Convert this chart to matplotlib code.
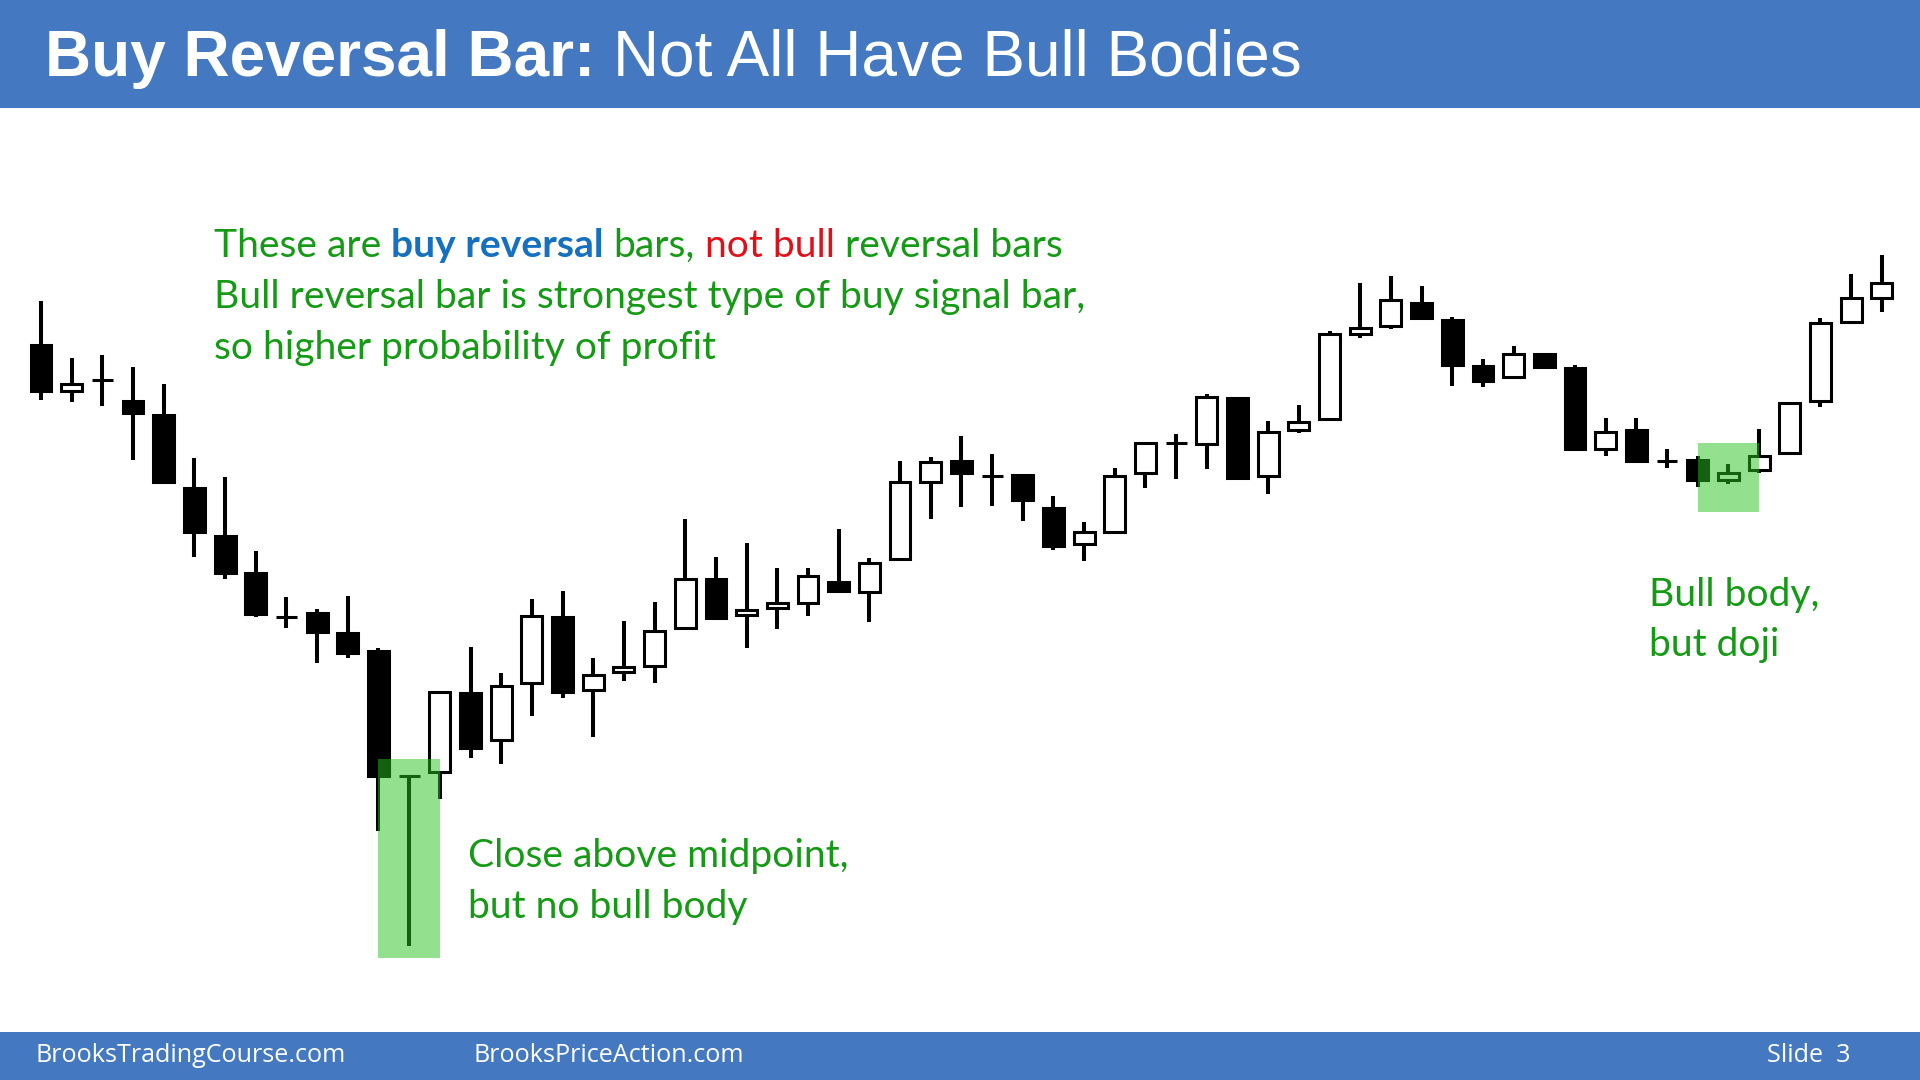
import matplotlib
matplotlib.use('Agg')
import matplotlib.pyplot as plt
from matplotlib.patches import Rectangle

# OHLC, one entry per bar, left to right
opens = [73.5, 68.9, 70.0, 67.9, 66.5, 59.2, 54.4, 50.7, 46.3, 46.7,
         44.7, 42.9, 30.4, 30.8, 38.7, 34.0, 39.7, 46.3, 39.0, 40.8,
         41.4, 45.2, 50.1, 46.5, 47.2, 47.7, 49.8, 48.8, 52.1, 59.8,
         61.9, 60.4, 60.5, 57.2, 53.6, 54.8, 60.7, 63.7, 63.6, 68.2,
         60.4, 65.0, 66.1, 74.6, 75.4, 77.7, 76.0, 71.4, 70.3, 72.6,
         71.2, 63.1, 65.0, 61.9, 62.0, 60.0, 61.0, 62.7, 67.9, 75.8,
         78.2]
highs = [77.9, 72.2, 72.5, 71.3, 69.6, 62.2, 60.3, 52.9, 48.3, 47.1,
         48.4, 43.2, 30.5, 38.8, 43.3, 40.7, 48.1, 48.9, 42.2, 45.9,
         47.8, 56.1, 52.3, 53.7, 51.2, 51.2, 55.1, 52.2, 61.9, 62.3,
         64.4, 62.6, 60.5, 58.4, 55.8, 61.2, 63.8, 64.6, 68.6, 68.2,
         65.9, 67.5, 74.9, 79.7, 80.4, 79.4, 76.3, 72.1, 73.4, 72.6,
         71.5, 66.2, 66.2, 63.1, 62.4, 61.6, 65.1, 67.7, 76.2, 80.6,
         82.5]
lows = [68.0, 67.8, 67.4, 62.0, 59.8, 52.3, 50.1, 46.3, 45.2, 41.7,
        42.2, 24.9, 13.4, 28.1, 32.2, 31.6, 36.4, 38.2, 34.3, 39.9,
        39.7, 45.2, 46.1, 43.2, 45.1, 46.4, 48.8, 45.8, 51.9, 56.1,
        57.3, 57.4, 55.9, 53.0, 51.9, 54.8, 59.2, 60.1, 61.1, 60.2,
        58.6, 64.7, 66.1, 74.2, 75.1, 76.1, 69.4, 69.3, 70.3, 71.2,
        63.1, 62.4, 61.7, 61.2, 59.3, 59.6, 60.7, 62.7, 67.3, 75.7,
        76.8]
closes = [68.9, 69.6, 70.0, 66.7, 59.8, 54.8, 50.7, 46.6, 46.3, 44.8,
          42.7, 30.4, 30.4, 38.8, 33.2, 39.4, 46.4, 38.8, 40.5, 41.3,
          44.9, 50.1, 46.2, 47.0, 47.7, 50.4, 48.9, 51.7, 59.8, 61.8,
          60.7, 60.4, 58.0, 53.4, 54.8, 60.4, 63.7, 63.7, 68.3, 60.2,
          64.8, 65.8, 74.6, 75.2, 78.0, 76.2, 71.5, 69.9, 72.6, 71.3,
          63.1, 64.8, 61.9, 61.9, 60.0, 60.7, 62.4, 67.7, 75.7, 78.2,
          79.7]

# bars singled out with a green box, and the box bottom/top
marked = [12, 55]
box_lo = [12.2, 56.8]
box_hi = [32.1, 63.7]

W, H = 1920, 1080
GREEN = '#149a14'
BLUE = '#1570c0'
RED = '#e0101a'
BAND = '#4479c1'
BODY_FONT = 'Lato'

fig = plt.figure(figsize=(W / 100, H / 100), dpi=100)
renderer = fig.canvas.get_renderer()

# header and footer bands
fig.patches.append(Rectangle((0, 1 - 108 / H), 1, 108 / H, transform=fig.transFigure,
                             facecolor=BAND, edgecolor='none', zorder=0))
fig.patches.append(Rectangle((0, 0), 1, 48 / H, transform=fig.transFigure,
                             facecolor=BAND, edgecolor='none', zorder=0))

# chart area: one bar every 30.68 px, first bar at x=41 px
step = 30.68
ax = fig.add_axes([0, 0, 1, 1])
ax.set_xlim(-41 / step, (W - 41) / step)
ax.set_ylim(0, H / 10)
ax.axis('off')

body_w = 0.68
for i in range(len(opens)):
    o, h, l, c = opens[i], highs[i], lows[i], closes[i]
    ax.vlines(i, l, h, color='black', lw=2.9, zorder=2)
    fill = 'white' if c >= o else 'black'
    ax.add_patch(Rectangle((i - body_w / 2, min(o, c)), body_w, abs(c - o),
                           facecolor=fill, edgecolor='black', lw=2.2, zorder=3))

for k, i in enumerate(marked):
    ax.add_patch(Rectangle((i - 1, box_lo[k]), 2, box_hi[k] - box_lo[k],
                           facecolor=(40 / 255, 195 / 255, 30 / 255), alpha=0.5,
                           edgecolor='none', zorder=5))


def width_of(t):
    return t.get_window_extent(renderer).width


def space_width(size, weight, family):
    a = fig.text(0, 0, 'x x', fontsize=size, fontweight=weight, family=family)
    b = fig.text(0, 0, 'xx', fontsize=size, fontweight=weight, family=family)
    d = width_of(a) - width_of(b)
    a.remove()
    b.remove()
    return d


def fitted_size(text, base, target, family, weight='normal'):
    probe = fig.text(0, 0, text, fontsize=base, fontweight=weight, family=family)
    s = base * target / width_of(probe)
    probe.remove()
    return s


def put_line(x, y, pieces, size, family):
    # pieces: (text, color, weight), joined by single spaces
    for n, (text, color, weight) in enumerate(pieces):
        if n > 0:
            x += space_width(size, weight, family)
        t = fig.text(x / W, 1 - y / H, text, color=color, fontsize=size,
                     fontweight=weight, family=family, va='baseline', ha='left')
        x += width_of(t)
    return x


# size body text so the second line spans the same width as on the slide
size = fitted_size('Bull reversal bar is strongest type of buy signal bar,', 27, 872, BODY_FONT)

put_line(214, 257, [('These are', GREEN, 'normal'), ('buy reversal', BLUE, 'bold'),
                    ('bars,', GREEN, 'normal'), ('not bull', RED, 'normal'),
                    ('reversal bars', GREEN, 'normal')], size, BODY_FONT)
put_line(214, 308, [('Bull reversal bar is strongest type of buy signal bar,', GREEN, 'normal')],
         size, BODY_FONT)
put_line(214, 359, [('so higher probability of profit', GREEN, 'normal')], size, BODY_FONT)

put_line(468, 867, [('Close above midpoint,', GREEN, 'normal')], size, BODY_FONT)
put_line(468, 918, [('but no bull body', GREEN, 'normal')], size, BODY_FONT)
put_line(1649, 606, [('Bull body,', GREEN, 'normal')], size, BODY_FONT)
put_line(1649, 656, [('but doji', GREEN, 'normal')], size, BODY_FONT)

# title, fitted to the slide's width
title_font = 'Liberation Sans'
t1 = fig.text(0, 0, 'Buy Reversal Bar:', fontsize=46, fontweight='bold', family=title_font)
t2 = fig.text(0, 0, 'Not All Have Bull Bodies', fontsize=46, family=title_font)
total = width_of(t1) + width_of(t2) + space_width(46, 'normal', title_font)
t1.remove()
t2.remove()
tsize = 46 * 1257 / total
put_line(45, 76, [('Buy Reversal Bar:', 'white', 'bold'),
                  ('Not All Have Bull Bodies', 'white', 'normal')], tsize, title_font)

# footer
foot_font = 'Open Sans'
fsize = fitted_size('BrooksTradingCourse.com', 18, 311, foot_font)
foot = dict(color='white', fontsize=fsize, family=foot_font, va='center', ha='left')
fig.text(35 / W, 1 - 1055 / H, 'BrooksTradingCourse.com', **foot)
fig.text(474 / W, 1 - 1055 / H, 'BrooksPriceAction.com', **foot)
fig.text(1767 / W, 1 - 1055 / H, 'Slide  3', **foot)

fig.savefig('out.png', dpi=100, facecolor='white')
